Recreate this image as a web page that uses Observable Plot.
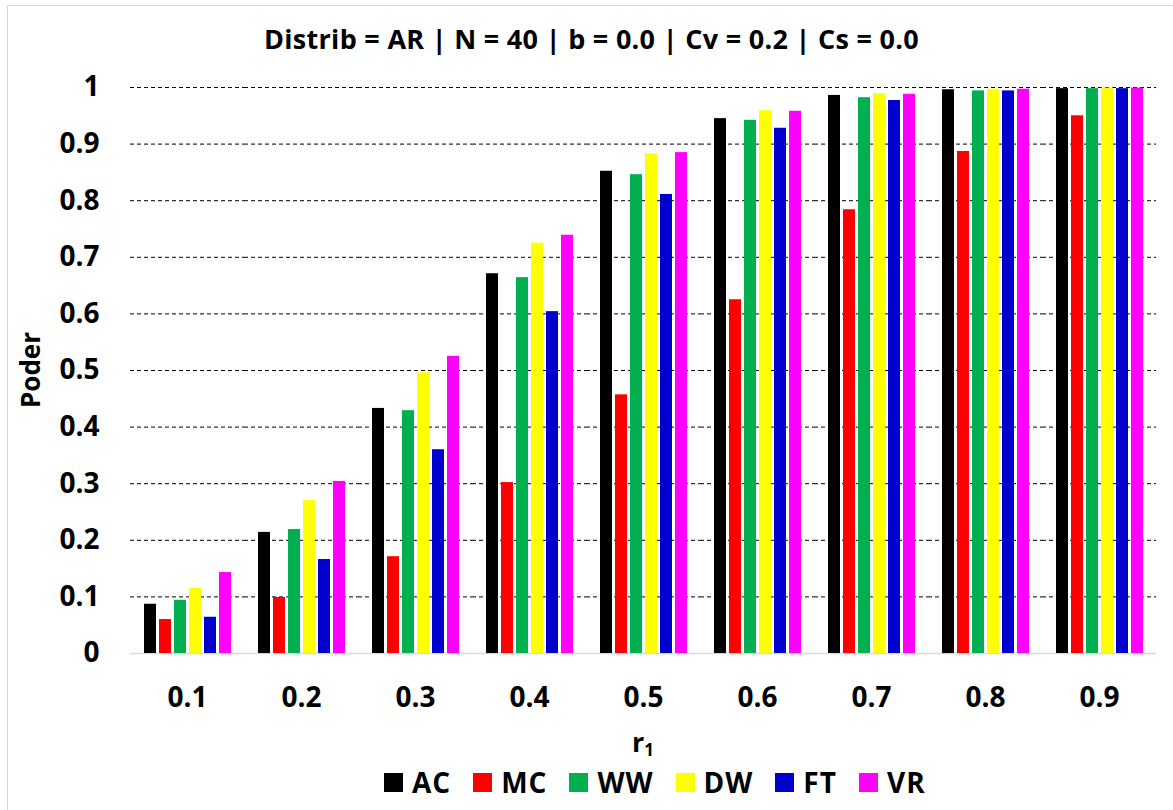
<!DOCTYPE html>
<html>
<head>
<meta charset="utf-8">
<script src="https://cdn.jsdelivr.net/npm/d3@7"></script>
<script src="https://cdn.jsdelivr.net/npm/@observablehq/plot@0.6"></script>
<style>
  html, body { margin: 0; padding: 0; background: #fff; }
  body { font-family: "Open Sans", sans-serif; }
  #wrap { position: relative; width: 1173px; height: 810px; overflow: hidden; background: #fff; }
  #chart { position: absolute; left: 0; top: 0; }
  #border { position: absolute; left: 7px; top: 5px; width: 1300px; height: 900px; border: 1px solid #d9d9d9; pointer-events: none; }
  .txt { position: absolute; font-weight: 700; color: #000; line-height: 1; white-space: nowrap; }
  #title { top: 25px; left: 0; width: 1183px; text-align: center; font-size: 27px; letter-spacing: 0.3px; }
  #ylab { left: 30px; top: 370px; font-size: 26px; transform: translate(-50%, -50%) rotate(-90deg); }
  #xlab { left: 632px; top: 728px; font-size: 27px; }
  #xlab sub { font-size: 17px; vertical-align: baseline; position: relative; top: 4px; }
  #legend { position: absolute; left: 384px; top: 768px; display: flex; align-items: center; gap: 22px; font-weight: 700; font-size: 28px; line-height: 1; letter-spacing: 1px; }
  .item { display: flex; align-items: center; gap: 9px; }
  .sw { width: 19px; height: 19px; display: inline-block; }
</style>
</head>
<body>
<div id="wrap">
  <div id="chart"></div>
  <div id="title" class="txt"></div>
  <div id="ylab" class="txt">Poder</div>
  <div id="xlab" class="txt">r<sub>1</sub></div>
  <div id="legend"></div>
  <div id="border"></div>
</div>
<script>
// ---- data ----
const titleText = "Distrib = AR | N = 40 | b = 0.0 | Cv = 0.2 | Cs = 0.0";
const r1 = ["0.1", "0.2", "0.3", "0.4", "0.5", "0.6", "0.7", "0.8", "0.9"];
const series = ["AC", "MC", "WW", "DW", "FT", "VR"];
const colors = ["#000000", "#ff0000", "#00b050", "#ffff00", "#0000cc", "#ff00ff"];
const yTicks = [0, 0.1, 0.2, 0.3, 0.4, 0.5, 0.6, 0.7, 0.8, 0.9, 1];

const AC = [0.087, 0.214, 0.433, 0.671, 0.852, 0.945, 0.986, 0.996, 0.998];
const MC = [0.060, 0.099, 0.171, 0.302, 0.457, 0.625, 0.784, 0.887, 0.950];
const WW = [0.094, 0.219, 0.429, 0.664, 0.846, 0.942, 0.982, 0.994, 0.998];
const DW = [0.115, 0.270, 0.496, 0.725, 0.883, 0.959, 0.989, 0.997, 0.999];
const FT = [0.064, 0.166, 0.360, 0.604, 0.811, 0.928, 0.977, 0.994, 0.998];
const VR = [0.143, 0.304, 0.525, 0.739, 0.885, 0.958, 0.988, 0.997, 0.999];

const valuesBySeries = [AC, MC, WW, DW, FT, VR];
const rows = r1.flatMap((r, i) => series.map((s, j) => ({ r1: r, series: s, value: valuesBySeries[j][i] })));

document.getElementById("title").textContent = titleText;

const fmt = d => String(+d.toFixed(1));

const plot = Plot.plot({
  width: 1173,
  height: 730,
  marginTop: 87,
  marginBottom: 77,
  marginLeft: 126,
  marginRight: 13,
  style: { background: "transparent", fontFamily: "'Open Sans', sans-serif", color: "#000" },
  fx: { domain: r1, padding: 0, label: null },
  x: { domain: series, paddingInner: 0.22, paddingOuter: 0.89, axis: null },
  y: { domain: [0, 1], axis: null },
  color: { domain: series, range: colors },
  marks: [
    Plot.ruleY(yTicks.filter(d => d > 0), { stroke: "#000", strokeWidth: 1, strokeDasharray: "4,3" }),
    Plot.ruleY([0], { stroke: "#d9d9d9", strokeWidth: 1.5 }),
    Plot.barY(rows, { fx: "r1", x: "series", y: "value", fill: "series" }),
    Plot.axisFx({ anchor: "bottom", tickSize: 0, tickPadding: 34, fontSize: 28, fontWeight: "bold", label: null }),
    Plot.axisY(yTicks, { anchor: "left", tickSize: 0, tickPadding: 31, fontSize: 28, fontWeight: "bold", tickFormat: fmt, label: null })
  ]
});
document.getElementById("chart").appendChild(plot);

// legend
const legend = document.getElementById("legend");
series.forEach((s, i) => {
  const it = document.createElement("div");
  it.className = "item";
  const sw = document.createElement("span");
  sw.className = "sw";
  sw.style.background = colors[i];
  const t = document.createElement("span");
  t.textContent = s;
  it.appendChild(sw);
  it.appendChild(t);
  legend.appendChild(it);
});
</script>
</body>
</html>
